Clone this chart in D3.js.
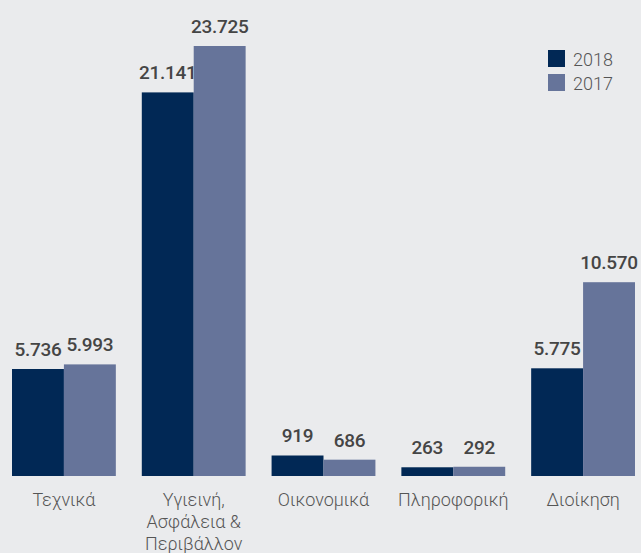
<!DOCTYPE html>
<html>
<head>
<meta charset="utf-8">
<script src="https://cdn.jsdelivr.net/npm/d3@7"></script>
<style>
  html, body { margin: 0; padding: 0; background: #eaebed; }
  svg { display: block; }
</style>
</head>
<body>
<svg id="chart" width="641" height="553"></svg>
<script>
const categories = ["Τεχνικά", "Υγιεινή, Ασφάλεια & Περιβάλλον", "Οικονομικά", "Πληροφορική", "Διοίκηση"];
const categoryLines = [["Τεχνικά"], ["Υγιεινή,", "Ασφάλεια &", "Περιβάλλον"], ["Οικονομικά"], ["Πληροφορική"], ["Διοίκηση"]];
const seriesNames = ["2018", "2017"];
const values2018 = [5736, 21141, 919, 263, 5775];
const values2017 = [5993, 23725, 686, 292, 10570];
const seriesColors = ["#012855", "#66749a"];

const W = 641, H = 553;
const baseline = 476;
const svg = d3.select("#chart");
svg.append("rect").attr("width", W).attr("height", H).attr("fill", "#eaebed");

const series = [values2018, values2017];
const maxV = d3.max([...values2018, ...values2017]);

const x0 = d3.scaleBand().domain(categories).range([12, 635]).paddingInner(0.2).paddingOuter(0);
const x1 = d3.scaleBand().domain(seriesNames).range([0, x0.bandwidth()]).padding(0);
const y = d3.scaleLinear().domain([0, maxV]).range([472, 46]);

const fmt = d3.formatLocale({decimal: ",", thousands: ".", grouping: [3], currency: ["", "€"]}).format(",d");

const rows = categories.map((c, i) => ({cat: c, i, vals: seriesNames.map((s, j) => ({s, j, v: series[j][i]}))}));

const g = svg.selectAll("g.grp").data(rows).join("g")
  .attr("class", "grp")
  .attr("transform", d => `translate(${x0(d.cat)},0)`);

g.selectAll("rect").data(d => d.vals).join("rect")
  .attr("x", d => x1(d.s))
  .attr("y", d => y(d.v))
  .attr("width", x1.bandwidth())
  .attr("height", d => baseline - y(d.v))
  .attr("fill", d => seriesColors[d.j]);

g.selectAll("text.val").data(d => d.vals).join("text")
  .attr("class", "val")
  .attr("x", d => x1(d.s) + x1.bandwidth() / 2)
  .attr("y", d => y(d.v) - 13)
  .attr("text-anchor", "middle")
  .attr("font-family", "Roboto, sans-serif")
  .attr("font-weight", 500)
  .attr("font-size", 19)
  .attr("letter-spacing", -0.3)
  .attr("fill", "#454545")
  .text(d => fmt(d.v));

// category labels
g.append("text")
  .attr("text-anchor", "middle")
  .attr("font-family", "Roboto, sans-serif")
  .attr("font-weight", 300)
  .attr("font-size", 18)
  .attr("fill", "#555")
  .selectAll("tspan").data(d => categoryLines[d.i]).join("tspan")
  .attr("x", x0.bandwidth() / 2)
  .attr("y", (d, k) => 506 + k * 22)
  .text(d => d);

// legend
const leg = svg.append("g").selectAll("g").data(seriesNames).join("g")
  .attr("transform", (d, i) => `translate(548, ${50 + i * 24})`);
leg.append("rect").attr("width", 17).attr("height", 17).attr("fill", (d, i) => seriesColors[i]);
leg.append("text")
  .attr("x", 25).attr("y", 16)
  .attr("font-family", "Roboto, sans-serif")
  .attr("font-weight", 300)
  .attr("font-size", 18)
  .attr("fill", "#555")
  .text(d => d);
</script>
</body>
</html>
